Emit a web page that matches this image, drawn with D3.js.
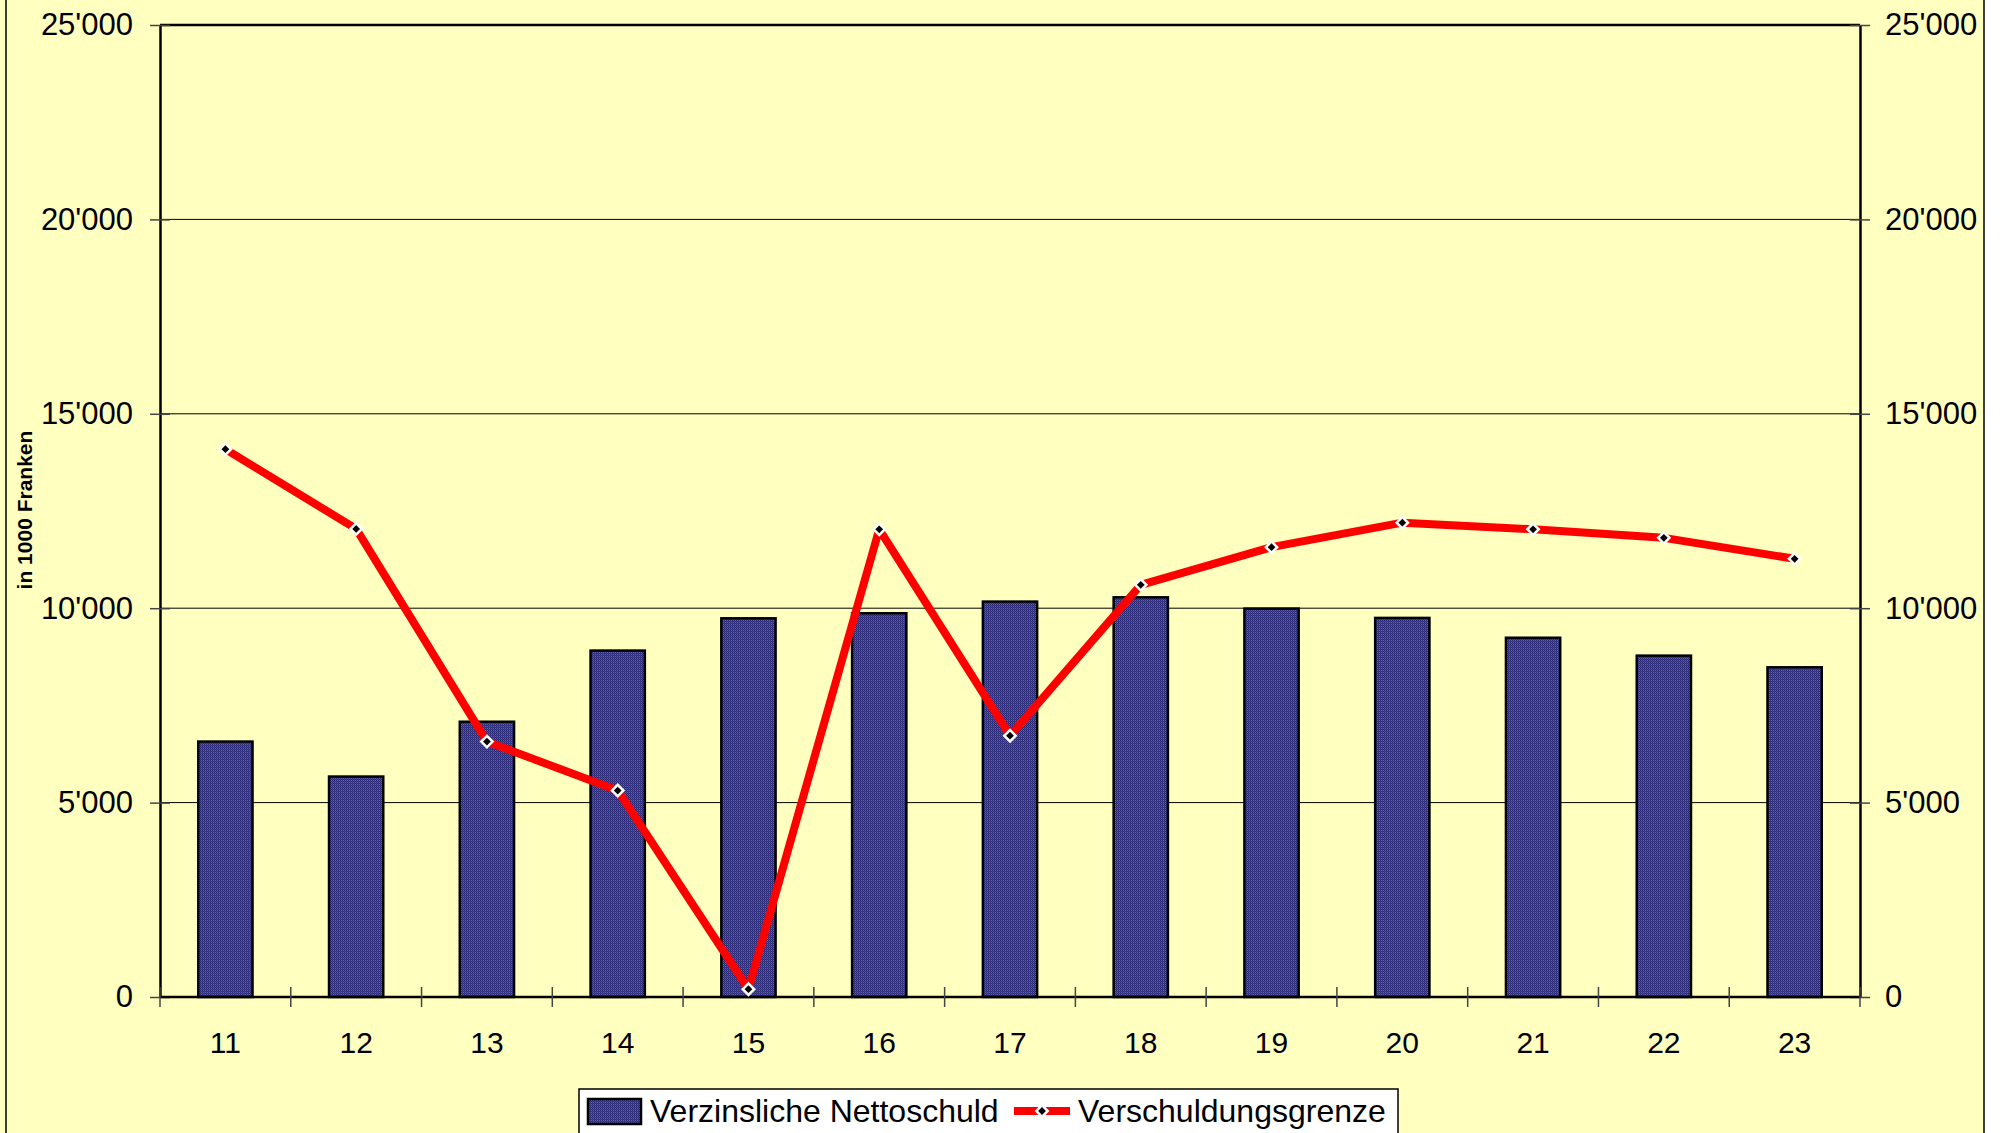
<!DOCTYPE html>
<html lang="de">
<head>
<meta charset="utf-8">
<title>Verzinsliche Nettoschuld und Verschuldungsgrenze</title>
<script src="https://d3js.org/d3.v7.min.js"></script>
<style>
  html, body { margin: 0; padding: 0; background: #fff; }
  svg { display: block; font-family: "Liberation Sans", Arial, sans-serif; }
</style>
</head>
<body>
<svg width="2007" height="1133"></svg>
<script>
// data
var years = ["11", "12", "13", "14", "15", "16", "17", "18", "19", "20", "21", "22", "23"];
var nettoschuld = [6570, 5670, 7080, 8910, 9740, 9870, 10170, 10280, 9990, 9750, 9240, 8780, 8480];
var grenze = [14090, 12040, 6570, 5310, 200, 12030, 6720, 10600, 11570, 12200, 12030, 11810, 11270];
var yTicks = [0, 5000, 10000, 15000, 20000, 25000];
var seriesNames = ["Verzinsliche Nettoschuld", "Verschuldungsgrenze"];

var svg = d3.select("svg"),
    width = +svg.attr("width"),
    height = +svg.attr("height");

var margin = {left: 160, right: 147, top: 25, bottom: 136};
var plotW = width - margin.left - margin.right,
    plotH = height - margin.top - margin.bottom;

var bg = "#FFFFC0";

// bar fill pattern (dithered blue)
var defs = svg.append("defs");
var pat = defs.append("pattern")
    .attr("id", "dots")
    .attr("width", 2).attr("height", 2)
    .attr("patternUnits", "userSpaceOnUse");
pat.append("rect").attr("width", 2).attr("height", 2).attr("fill", "#2a2a78");
pat.append("rect").attr("x", 1).attr("y", 0).attr("width", 1).attr("height", 1).attr("fill", "#6060c8");
pat.append("rect").attr("x", 0).attr("y", 1).attr("width", 1).attr("height", 1).attr("fill", "#40409c");

// chart background + border
svg.append("rect").attr("x", 0).attr("y", 0).attr("width", 7).attr("height", height).attr("fill", bg);
svg.append("rect")
    .attr("x", 6).attr("y", -2)
    .attr("width", 1978).attr("height", height + 10)
    .attr("fill", bg).attr("stroke", "#000").attr("stroke-width", 1.5);

var x = d3.scaleBand()
    .domain(years)
    .range([margin.left, margin.left + plotW])
    .paddingInner(0.585)
    .paddingOuter(0.2925);

var y = d3.scaleLinear()
    .domain([0, 25000])
    .range([margin.top + plotH, margin.top]);

var fmt = function(d) { return d3.format(",")(d).replace(/,/g, "'"); };

// gridlines
svg.append("g")
    .selectAll("line")
    .data(yTicks.slice(1, -1))
    .enter().append("line")
    .attr("x1", margin.left).attr("x2", margin.left + plotW)
    .attr("y1", function(d) { return y(d); })
    .attr("y2", function(d) { return y(d); })
    .attr("stroke", "#000").attr("stroke-width", 1);

// plot frame top line
svg.append("line")
    .attr("x1", margin.left).attr("x2", margin.left + plotW)
    .attr("y1", y(25000)).attr("y2", y(25000))
    .attr("stroke", "#000").attr("stroke-width", 2.5);

// bars
svg.append("g")
    .selectAll("rect")
    .data(nettoschuld)
    .enter().append("rect")
    .attr("x", function(d, i) { return x(years[i]); })
    .attr("y", function(d) { return y(d); })
    .attr("width", x.bandwidth())
    .attr("height", function(d) { return y(0) - y(d); })
    .attr("fill", "url(#dots)")
    .attr("stroke", "#000")
    .attr("stroke-width", 2.5);

// axes
var yLeft = d3.axisLeft(y).tickValues(yTicks).tickFormat(fmt).tickSizeInner(10).tickSizeOuter(0).tickPadding(17);
var yRight = d3.axisRight(y).tickValues(yTicks).tickFormat(fmt).tickSizeInner(10).tickSizeOuter(0).tickPadding(15);

function styleAxis(g) {
    g.select(".domain").attr("stroke", "#000").attr("stroke-width", 2.5);
    g.selectAll(".tick text").attr("font-size", 31).attr("fill", "#000");
    g.selectAll(".tick line").attr("stroke", "#444").attr("stroke-width", 1.5);
}

var gl = svg.append("g").attr("transform", "translate(" + margin.left + ",0)").call(yLeft).call(styleAxis);
gl.selectAll(".tick line").attr("x2", 10).attr("x1", -10);
gl.selectAll(".tick text").attr("x", -27);

var gr = svg.append("g").attr("transform", "translate(" + (margin.left + plotW) + ",0)").call(yRight).call(styleAxis);
gr.selectAll(".tick line").attr("x1", -10).attr("x2", 10);
gr.selectAll(".tick text").attr("x", 25);

// category axis: ticks between categories
var xb = svg.append("g").attr("transform", "translate(0," + y(0) + ")");
xb.append("line")
    .attr("x1", margin.left).attr("x2", margin.left + plotW)
    .attr("stroke", "#000").attr("stroke-width", 2.5);
var step = x.step();
xb.selectAll(".xt")
    .data(d3.range(years.length + 1))
    .enter().append("line")
    .attr("class", "xt")
    .attr("x1", function(i) { return margin.left + i * step; })
    .attr("x2", function(i) { return margin.left + i * step; })
    .attr("y1", -10).attr("y2", 10)
    .attr("stroke", "#444").attr("stroke-width", 1.5);
xb.selectAll("text")
    .data(years)
    .enter().append("text")
    .attr("x", function(d) { return x(d) + x.bandwidth() / 2; })
    .attr("y", 56)
    .attr("text-anchor", "middle")
    .attr("font-size", 30)
    .text(function(d) { return d; });

// line series
var line = d3.line()
    .x(function(d, i) { return x(years[i]) + x.bandwidth() / 2; })
    .y(function(d) { return y(d); });

svg.append("path")
    .datum(grenze)
    .attr("d", line)
    .attr("fill", "none")
    .attr("stroke", "#ff0000")
    .attr("stroke-width", 8)
    .attr("stroke-linejoin", "round");

var diamond = d3.symbol().type(d3.symbolSquare).size(64);
svg.append("g")
    .selectAll("path")
    .data(grenze)
    .enter().append("path")
    .attr("d", diamond)
    .attr("transform", function(d, i) {
        return "translate(" + (x(years[i]) + x.bandwidth() / 2) + "," + y(d) + ") rotate(45)";
    })
    .attr("fill", "#000")
    .attr("stroke", "#fff")
    .attr("stroke-width", 2.5);

// y title
svg.append("text")
    .attr("transform", "translate(32,510) rotate(-90)")
    .attr("text-anchor", "middle")
    .attr("font-size", 21)
    .attr("font-weight", "bold")
    .text("in 1000 Franken");

// legend
var lg = svg.append("g");
lg.append("rect")
    .attr("x", 579).attr("y", 1089)
    .attr("width", 819).attr("height", 60)
    .attr("fill", "#fff").attr("stroke", "#000").attr("stroke-width", 1.5);
lg.append("rect")
    .attr("x", 588).attr("y", 1099)
    .attr("width", 53).attr("height", 25)
    .attr("fill", "url(#dots)").attr("stroke", "#000").attr("stroke-width", 2.5);
lg.append("text")
    .attr("x", 650).attr("y", 1122)
    .attr("font-size", 32)
    .text(seriesNames[0]);
lg.append("line")
    .attr("x1", 1014).attr("x2", 1070)
    .attr("y1", 1111).attr("y2", 1111)
    .attr("stroke", "#ff0000").attr("stroke-width", 8);
lg.append("path")
    .attr("d", diamond)
    .attr("transform", "translate(1042,1111) rotate(45)")
    .attr("fill", "#000").attr("stroke", "#fff").attr("stroke-width", 2.5);
lg.append("text")
    .attr("x", 1078).attr("y", 1122)
    .attr("font-size", 32)
    .text(seriesNames[1]);
</script>
</body>
</html>
